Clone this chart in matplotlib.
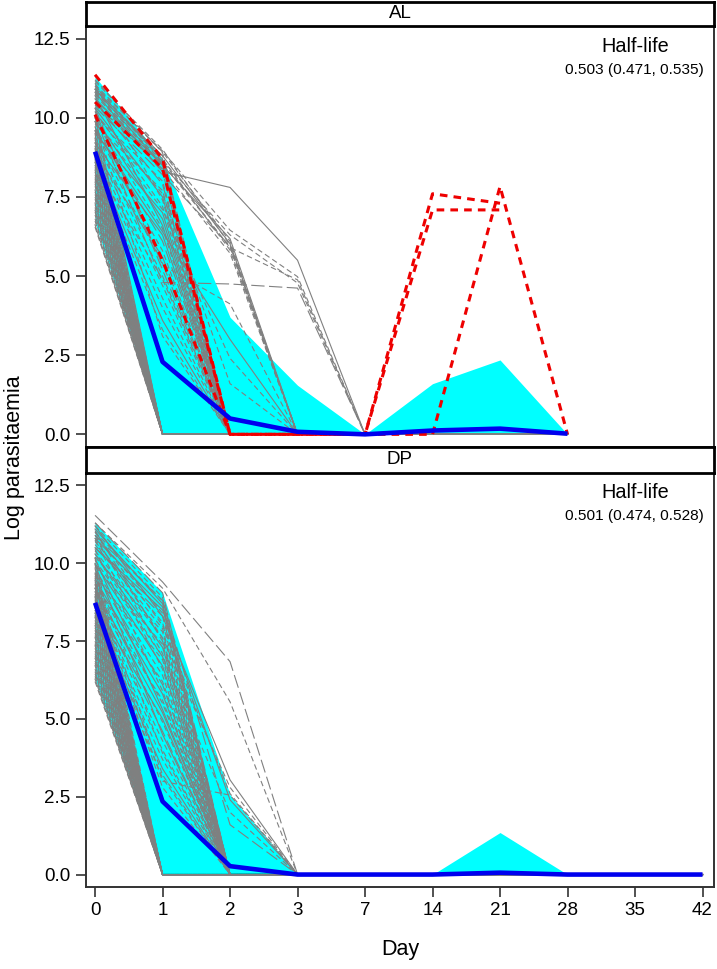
import matplotlib
matplotlib.use("Agg")
import matplotlib.pyplot as plt
import numpy as np

plt.rcParams["font.family"] = ["Liberation Sans", "DejaVu Sans"]

# x axis: study days, drawn at equal spacing
day_labels = ["0", "1", "2", "3", "7", "14", "21", "28", "35", "42"]
al_ndays = 8    # AL follow-up shown up to day 28
dp_ndays = 10   # DP follow-up up to day 42

# ---------------- AL arm ----------------
al_band_hi = [11.3, 8.7, 3.7, 1.55, 0.0, 1.6, 2.35, 0.0]
al_band_lo = [6.7, 0.0, 0.0, 0.0, 0.0, 0.0, 0.0, 0.0]
al_mean = [8.93, 2.29, 0.5, 0.08, 0.0, 0.12, 0.18, 0.02]
al_half_life = "0.503 (0.471, 0.535)"

# patients negative from day 1 (day 0 value)
al_clear_d1 = [6.55, 6.62, 6.74, 6.81, 6.93, 7.02, 7.08, 7.17, 7.26, 7.31,
               7.43, 7.5, 7.58, 7.66, 7.72, 7.84, 7.91, 7.97, 8.06, 8.12,
               8.2, 8.29, 8.35, 8.44, 8.51, 8.6, 8.68, 8.77, 8.85, 8.94,
               9.03, 9.12, 9.24, 9.35, 9.48, 9.6, 9.74, 9.9, 10.05]
# negative from day 2 (day 0, day 1)
al_clear_d2 = [[11.2, 8.9], [11.0, 8.7], [10.9, 8.5], [10.8, 8.8], [10.6, 8.3],
               [10.5, 7.9], [10.4, 8.6], [10.3, 7.5], [10.2, 7.2], [10.1, 8.0],
               [10.0, 6.8], [9.9, 6.5], [9.8, 7.7], [9.7, 6.1], [9.6, 5.8],
               [9.5, 7.0], [9.4, 5.4], [9.3, 5.0], [9.2, 6.3], [9.1, 4.7],
               [9.0, 4.3], [8.9, 5.6], [8.8, 4.0], [8.7, 3.6], [8.6, 3.3],
               [8.5, 4.9], [10.7, 6.6], [11.1, 7.4], [9.9, 3.1], [10.3, 5.2]]
# negative from day 3 (day 0, 1, 2)
al_clear_d3 = [[11.05, 8.92, 6.1], [10.9, 8.8, 6.02], [10.75, 8.62, 5.9],
               [10.85, 8.7, 5.82], [10.6, 8.5, 6.18], [10.45, 8.38, 5.72],
               [11.15, 9.0, 5.98], [10.35, 8.2, 5.95], [10.2, 5.35, 4.12],
               [9.6, 6.4, 3.0], [9.9, 7.1, 2.4], [10.1, 7.6, 1.6]]
# negative from day 7 (day 0, 1, 2, 3)
al_clear_d7 = [[10.8, 8.3, 7.8, 5.5], [11.0, 8.95, 6.45, 4.98],
               [10.7, 8.55, 5.9, 4.88], [10.0, 4.8, 4.75, 4.62],
               [10.95, 8.65, 6.3, 4.78]]
# recurrent infections (red)
al_recur = [[11.36, 8.7, 0.0, 0.0, 0.0, 7.6, 7.3],
            [10.5, 8.4, 0.0, 0.0, 0.0, 7.09, 7.09],
            [10.1, 5.5, 0.0, 0.0, 0.0, 0.0, 7.83, 0.0]]

# ---------------- DP arm ----------------
dp_band_hi = [11.3, 9.05, 2.56, 0.0, 0.0, 0.0, 1.35, 0.0, 0.0, 0.0]
dp_band_lo = [6.3, 0.0, 0.0, 0.0, 0.0, 0.0, 0.0, 0.0, 0.0, 0.0]
dp_mean = [8.73, 2.35, 0.27, 0.0, 0.0, 0.0, 0.06, 0.0, 0.0, 0.0]
dp_half_life = "0.501 (0.474, 0.528)"

dp_clear_d1 = [6.2, 6.28, 6.37, 6.45, 6.52, 6.6, 6.71, 6.79, 6.86, 6.95,
               7.03, 7.1, 7.18, 7.27, 7.35, 7.42, 7.5, 7.61, 7.68, 7.76,
               7.85, 7.93, 8.0, 8.09, 8.17, 8.26, 8.34, 8.41, 8.5, 8.58,
               8.67, 8.75, 8.84, 8.92, 9.01, 9.1, 9.22, 9.33, 9.45, 9.58,
               9.7, 9.85, 10.0, 10.2]
dp_clear_d2 = [[11.3, 9.05], [11.2, 8.9], [11.1, 8.7], [11.0, 8.8], [10.9, 8.4],
               [10.8, 8.6], [10.7, 8.1], [10.6, 7.9], [10.5, 8.3], [10.4, 7.6],
               [10.3, 7.3], [10.2, 7.8], [10.1, 7.0], [10.0, 6.7], [9.9, 7.4],
               [9.8, 6.4], [9.7, 6.1], [9.6, 6.9], [9.5, 5.8], [9.4, 5.5],
               [9.3, 6.2], [9.2, 5.2], [9.1, 4.9], [9.0, 5.6], [8.9, 4.6],
               [8.8, 4.3], [8.7, 5.0], [8.6, 4.0], [8.5, 3.7], [8.4, 3.4],
               [8.3, 3.1], [10.75, 6.6], [11.05, 7.5], [10.45, 5.9], [9.95, 4.5],
               [9.65, 3.9], [10.9, 7.1], [10.15, 5.3], [9.35, 3.2], [8.95, 2.8]]
dp_clear_d3 = [[11.54, 9.4, 6.84], [11.3, 9.2, 5.55], [11.2, 8.3, 3.04],
               [11.0, 8.0, 2.6], [10.8, 7.6, 2.8], [10.5, 8.5, 2.4],
               [9.2, 3.0, 2.55], [10.3, 7.0, 2.0], [10.9, 8.8, 1.6]]

grey_styles = [(0, (5, 3)), "-", (0, (5, 3)), (0, (5, 3)), (0, (12, 4)),
               (0, (5, 3)), "-", (0, (5, 3))]

W, H = 717, 969
fig = plt.figure(figsize=(W / 100, H / 100), dpi=100)


def frac(px_left, px_top, px_right, px_bottom):
    return [px_left / W, 1 - px_bottom / H, (px_right - px_left) / W,
            (px_bottom - px_top) / H]


def pad(vals, n):
    return list(vals) + [0.0] * (n - len(vals))


def draw_panel(ax, n, hi, lo, mean, groups, recur, half_life):
    x = np.arange(n)
    ax.fill_between(x, lo, hi, color="#00FFFF", linewidth=0, zorder=1)
    k = 0
    for grp in groups:
        for p in grp:
            vals = [p] if np.isscalar(p) else p
            ax.plot(x, pad(vals, n), color="#808080", lw=0.8,
                    linestyle=grey_styles[k % len(grey_styles)], zorder=2)
            k += 1
    for r in recur:
        xr = np.arange(len(r))
        ax.plot(xr, r, color="#EE0000", lw=2.2, linestyle=(0, (2.5, 2)), zorder=3)
    ax.plot(x, mean, color="#0000EE", lw=3.3, zorder=4, solid_capstyle="butt")
    ax.set_xlim(-0.134, 9.17)
    ax.set_ylim(-0.4, 12.9)
    ax.set_yticks([0, 2.5, 5, 7.5, 10, 12.5])
    ax.set_yticklabels(["0.0", "2.5", "5.0", "7.5", "10.0", "12.5"])
    ax.set_xticks(np.arange(10))
    ax.set_xticklabels(day_labels)
    ax.tick_params(direction="out", length=7, width=1.2, color="#333333",
                   labelsize=13.5)
    ax.tick_params(axis="y", pad=4.5)
    ax.tick_params(axis="x", pad=4)
    for sp in ax.spines.values():
        sp.set_color("#333333")
        sp.set_linewidth(1.4)
    ax.text(0.874, 0.952, "Half-life", transform=ax.transAxes, ha="center",
            va="center", fontsize=14.3)
    ax.text(0.874, 0.895, half_life, transform=ax.transAxes, ha="center",
            va="center", fontsize=11.1)


def strip(rect, label):
    s = fig.add_axes(rect)
    s.set_xticks([])
    s.set_yticks([])
    for sp in s.spines.values():
        sp.set_color("black")
        sp.set_linewidth(2)
    s.text(0.5, 0.5, label, transform=s.transAxes, ha="center", va="center",
           fontsize=13.5)


ax_al = fig.add_axes(frac(86, 26, 714, 447))
draw_panel(ax_al, al_ndays, al_band_hi, al_band_lo, al_mean,
           [al_clear_d1, al_clear_d2, al_clear_d3, al_clear_d7], al_recur,
           al_half_life)
ax_al.tick_params(axis="x", bottom=False, labelbottom=False)
strip(frac(86, 2, 714, 26), "AL")

ax_dp = fig.add_axes(frac(86, 473, 714, 887))
draw_panel(ax_dp, dp_ndays, dp_band_hi, dp_band_lo, dp_mean,
           [dp_clear_d1, dp_clear_d2, dp_clear_d3], [], dp_half_life)
strip(frac(86, 447, 714, 473), "DP")

fig.text(15 / W, 1 - 458 / H, "Log parasitaemia", rotation=90, ha="center",
         va="center", fontsize=15.5)
fig.text(400 / W, 1 - 949 / H, "Day", ha="center", va="center", fontsize=15.5)

fig.savefig("out.png", dpi=100)
